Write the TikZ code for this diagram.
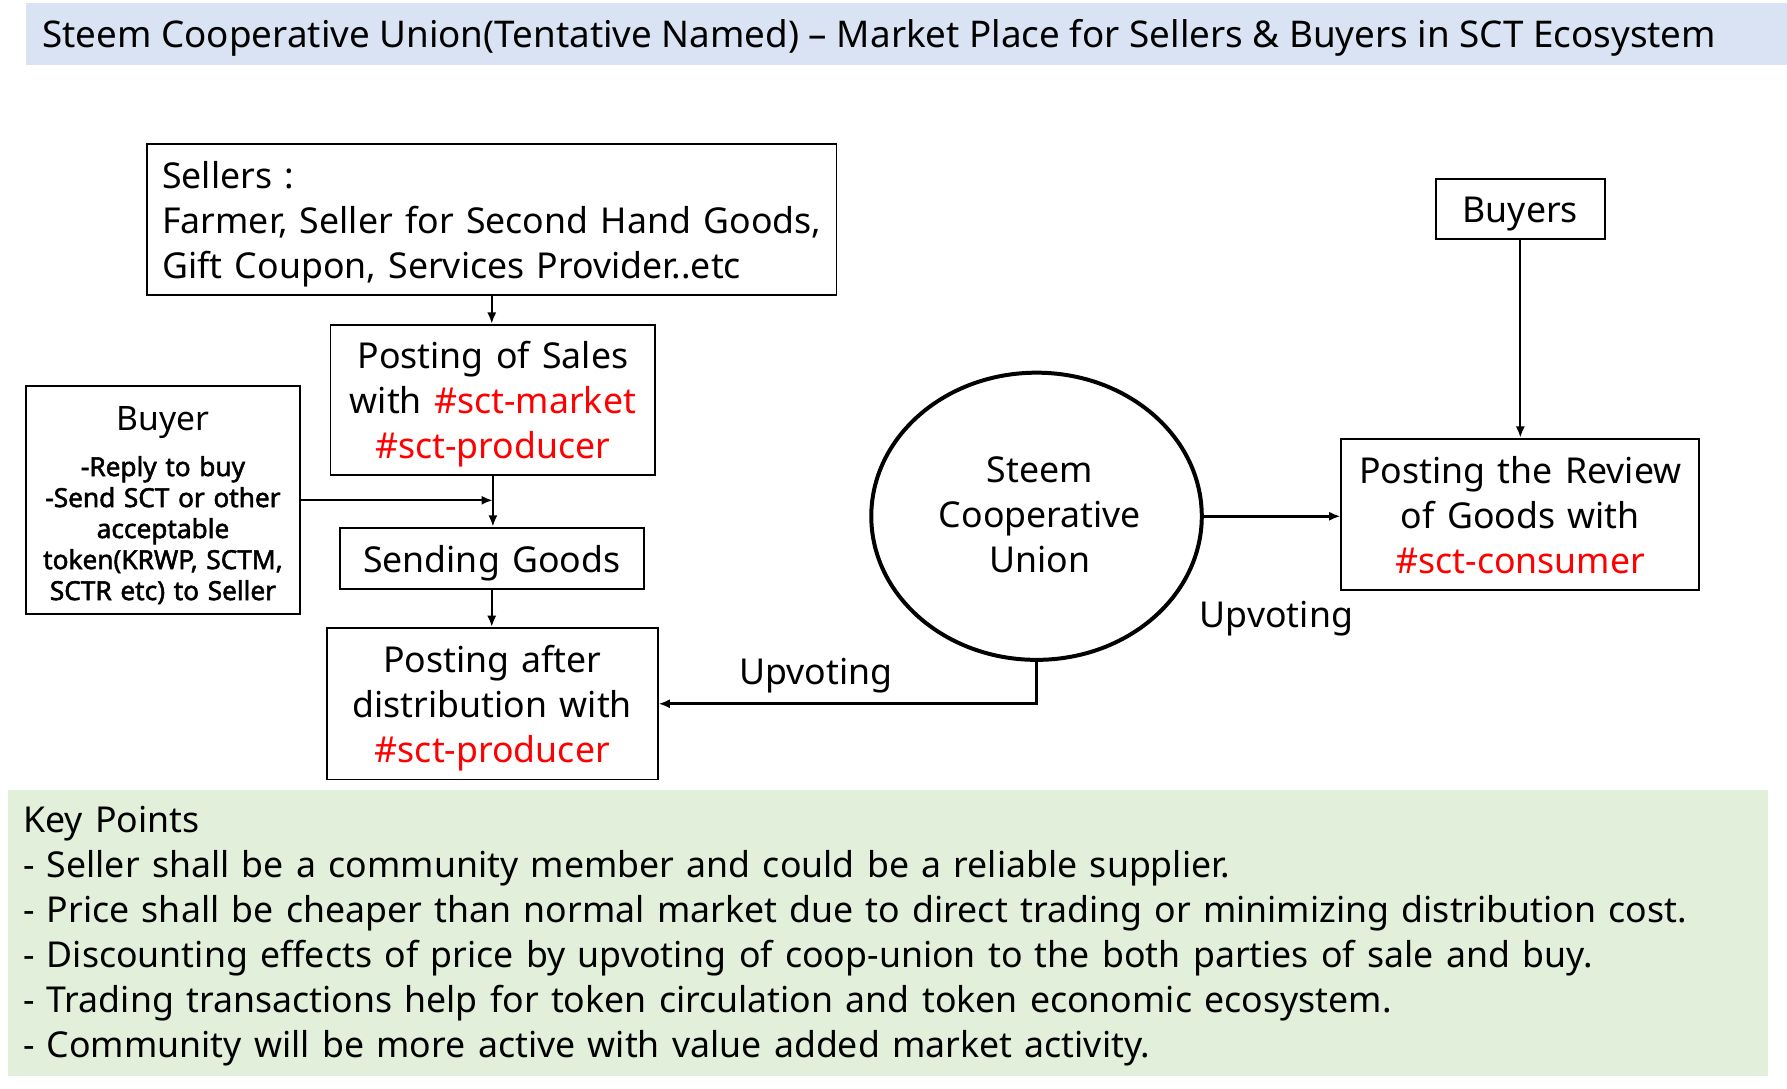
\documentclass[tikz,border=0pt]{standalone}
\usepackage{fontspec}
\setmainfont{Noto Sans}
\IfFontExistsTF{Noto Sans Bold}{\newfontfamily\buyerbold{Noto Sans Bold}}{\newfontfamily\buyerbold{Noto Sans}[FakeBold=2]}
\usetikzlibrary{arrows.meta,shapes.geometric}
\definecolor{bandblue}{RGB}{218,227,243}
\definecolor{bandgreen}{RGB}{226,239,218}
\definecolor{tagred}{RGB}{255,0,0}
\newcommand{\mainsz}{\fontsize{31.3}{39.5}\selectfont\spaceskip=0.345em\relax}
\newcommand{\red}[1]{\textcolor{tagred}{#1}}
\begin{document}
\begin{tikzpicture}[x=1pt,y=-1pt,
  box/.style={draw=black,line width=1.6pt,inner sep=0pt},
  txt/.style={inner sep=0pt,font=\mainsz,align=center},
  arr/.style={-{Latex[length=10pt,width=8pt]},line width=2pt},
  lbl/.style={font=\mainsz,inner sep=0pt}]
\useasboundingbox (0,0) rectangle (1568,955);
% title band
\fill[bandblue] (23,3) rectangle (1568,57);
\node[inner sep=0pt,anchor=base west,font=\fontsize{32.3}{39}\selectfont] (title) at (37,42)
 {Steem Cooperative Union(Tentative Named) -- Market Place for Sellers \& Buyers in SCT Ecosystem};
% key points band
\fill[bandgreen] (7,693) rectangle (1551,944);
\node[anchor=north west,inner sep=0pt,font=\mainsz,align=flush left,text width=1530pt] (keys) at (20,707)
 {Key Points\\
 - Seller shall be a community member and could be a reliable supplier.\\
 - Price shall be cheaper than normal market due to direct trading or minimizing distribution cost.\\
 - Discounting effects of price by upvoting of coop-union to the both parties of sale and buy.\\
 - Trading transactions help for token circulation and token economic ecosystem.\\
 - Community will be more active with value added market activity.};
% boxes
\node[box,minimum width=605pt,minimum height=133pt] (sellers) at (431.5,192.5) {};
\node[txt,anchor=west,align=flush left,text width=588pt] (sellerstext) at ([xshift=14pt,yshift=-4.5pt]sellers.west)
 {Sellers :\\Farmer, Seller for Second Hand Goods,\\Gift Coupon, Services Provider..etc};
\node[box,minimum width=285pt,minimum height=132pt] (sales) at (432.5,351) {};
\node[txt] (salestext) at ([yshift=-4pt]sales.center)
 {Posting of Sales\\with \red{\#sct-market}\\\red{\#sct-producer}};
\node[box,minimum width=240pt,minimum height=200pt] (buyer) at (143,439) {};
\node[inner sep=0pt,anchor=base] (buyertext) at (143,378)
 {\fontsize{23}{27.2}\selectfont\spaceskip=0.33em\relax\begin{tabular}[t]{@{}c@{}}
  \fontsize{29.5}{27.2}\selectfont Buyer\\[12.5pt]
  \buyerbold -Reply to buy\\
  \buyerbold -Send SCT or other\\
  \buyerbold acceptable\\
  \buyerbold token(KRWP, SCTM,\\
  \buyerbold SCTR etc) to Seller
 \end{tabular}};
\node[box,minimum width=267pt,minimum height=54pt] (sending) at (431.5,490) {};
\node[txt] (sendingtext) at ([yshift=-4.5pt]sending.center) {Sending Goods};
\node[box,minimum width=290pt,minimum height=133pt] (after) at (432,617.5) {};
\node[txt] (aftertext) at ([yshift=-4pt]after.center)
 {Posting after\\distribution with\\\red{\#sct-producer}};
\node[draw=black,line width=3.5pt,ellipse,minimum width=290pt,minimum height=252pt,inner sep=0pt] (union) at (909.5,453) {};
\node[txt] (uniontext) at ([xshift=3pt,yshift=1pt]union.center) {Steem\\Cooperative\\Union};
\node[box,minimum width=148pt,minimum height=53pt] (buyers) at (1334,183.5) {};
\node[txt] (buyerstext) at ([yshift=-4pt]buyers.center) {Buyers};
\node[box,minimum width=314pt,minimum height=133pt] (review) at (1334,451.5) {};
\node[txt] (reviewtext) at ([yshift=-0.5pt]review.center)
 {Posting the Review\\of Goods with\\\red{\#sct-consumer}};
% connectors
\draw[arr] (sellers.south) -- (sellers.south |- sales.north);
\draw[arr] (sales.south) -- (sales.south |- sending.north);
\draw[arr] (buyer.east) -- (buyer.east -| sales.south);
\draw[arr] (sending.south) -- (sending.south |- after.north);
\draw[arr,line width=3pt] (union.south) |- (after.east);
\draw[arr,line width=2.5pt] (union.east) -- (union.east -| review.west);
\draw[arr] (buyers.south) -- (review.north);
\node[lbl] (up1) at (716,593) {Upvoting};
\node[lbl] (up2) at (1120,543) {Upvoting};
\end{tikzpicture}
\end{document}
